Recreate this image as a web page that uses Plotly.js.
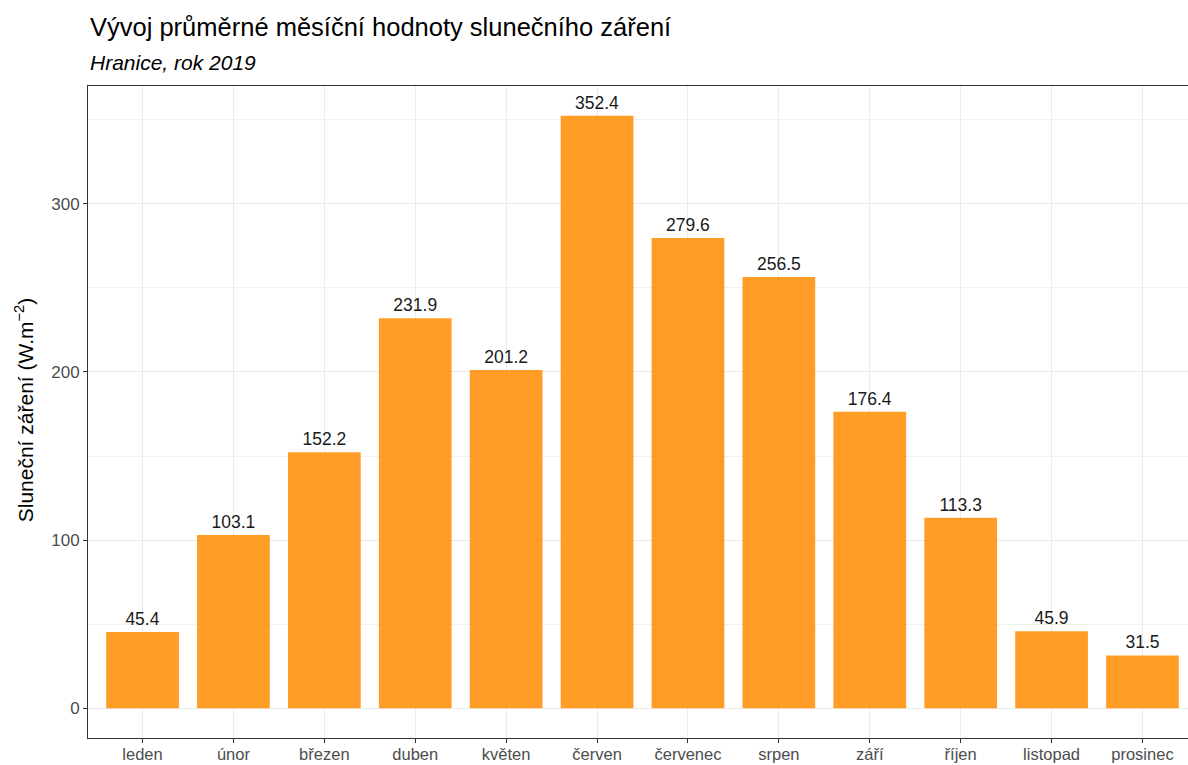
<!DOCTYPE html>
<html>
<head>
<meta charset="utf-8">
<script src="https://cdn.plot.ly/plotly-3.0.1.min.js"></script>
<style>html,body{margin:0;padding:0;overflow:hidden;background:#fff;}</style>
</head>
<body>
<div id="chart"></div>
<script>
const months = ["leden","únor","březen","duben","květen","červen","červenec","srpen","září","říjen","listopad","prosinec"];
const radiation = [45.4, 103.1, 152.2, 231.9, 201.2, 352.4, 279.6, 256.5, 176.4, 113.3, 45.9, 31.5];
const yTicks = [0, 100, 200, 300];

const FONT = "Liberation Sans, Arial, sans-serif";

const trace = {
  type: "bar",
  x: months,
  y: radiation,
  width: 0.8,
  marker: {color: "#FF8C00", opacity: 0.85, line: {width: 0}},
  text: radiation.map(v => v.toFixed(1)),
  textposition: "outside",
  textfont: {family: FONT, size: 17.5, color: "#1a1a1a"},
  cliponaxis: false,
  hoverinfo: "x+y"
};

const layout = {
  width: 1200,
  height: 765,
  margin: {l: 88, r: 3.4, t: 86, b: 27.4, autoexpand: false},
  paper_bgcolor: "#fff",
  plot_bgcolor: "#fff",
  showlegend: false,
  font: {family: FONT, color: "#4d4d4d"},
  xaxis: {
    type: "category",
    range: [-0.6, 11.6],
    showgrid: true,
    gridcolor: "#ebebeb",
    gridwidth: 1,
    showline: true,
    linecolor: "#333333",
    linewidth: 1,
    mirror: true,
    ticks: "outside",
    ticklen: 4,
    tickwidth: 1,
    tickcolor: "#333333",
    ticklabelstandoff: -3,
    tickfont: {family: FONT, size: 16.5, color: "#4d4d4d"},
    zeroline: false,
    fixedrange: true
  },
  yaxis: {
    range: [-17.62, 370.02],
    tickvals: yTicks,
    ticktext: yTicks.map(String),
    showgrid: true,
    gridcolor: "#ebebeb",
    gridwidth: 1,
    minor: {tickvals: [50, 150, 250, 350], showgrid: true, gridcolor: "#f1f1f1", gridwidth: 1, ticks: ""},
    showline: true,
    linecolor: "#333333",
    linewidth: 1,
    mirror: true,
    ticks: "outside",
    ticklen: 4,
    tickwidth: 1,
    tickcolor: "#333333",
    tickfont: {family: FONT, size: 17, color: "#4d4d4d"},
    zeroline: false,
    fixedrange: true
  },
  annotations: [
    {
      text: "Vývoj průměrné měsíční hodnoty slunečního záření",
      xref: "paper", yref: "paper", x: 0, y: 1.0905,
      xanchor: "left", yanchor: "middle", showarrow: false,
      font: {family: FONT, size: 25.5, color: "#000"}
    },
    {
      text: "<i>Hranice, rok 2019</i>",
      xref: "paper", yref: "paper", x: 0, y: 1.0368,
      xanchor: "left", yanchor: "middle", showarrow: false,
      font: {family: FONT, size: 21, color: "#000"}
    },
    {
      text: "Sluneční záření (W.m<sup>−2</sup>)",
      xref: "paper", yref: "paper", x: -0.0575, y: 0.503,
      xanchor: "center", yanchor: "middle", showarrow: false,
      textangle: -90,
      font: {family: FONT, size: 21, color: "#000"}
    }
  ]
};

Plotly.newPlot("chart", [trace], layout, {displayModeBar: false, staticPlot: true});
</script>
</body>
</html>
